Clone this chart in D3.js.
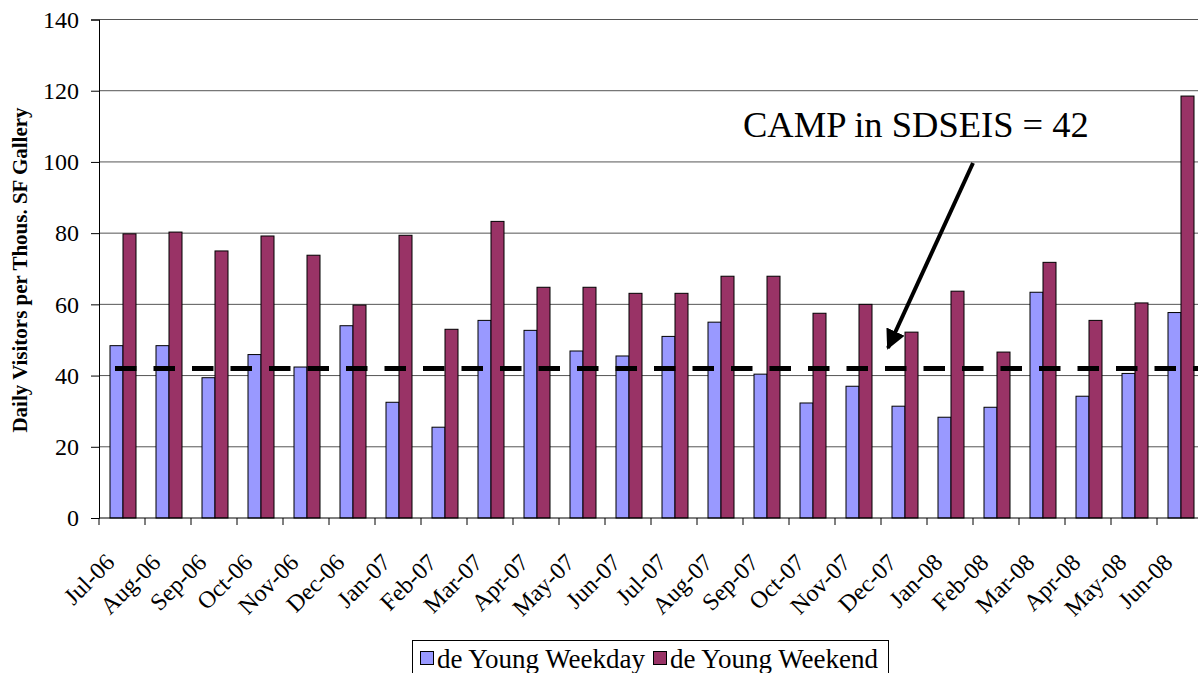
<html lang="en">
<head>
  <script src="https://d3js.org/d3.v7.min.js"></script>
  <style>
    body { margin: 0; background: white; }
    svg text { font-family: "Liberation Serif", "Times New Roman", serif; fill: #000; }
  </style>
</head>
<body>
  <svg id="chart" width="1198" height="673"></svg>
  <script>
    const months = ["Jul-06","Aug-06","Sep-06","Oct-06","Nov-06","Dec-06","Jan-07","Feb-07","Mar-07","Apr-07","May-07","Jun-07",
                    "Jul-07","Aug-07","Sep-07","Oct-07","Nov-07","Dec-07","Jan-08","Feb-08","Mar-08","Apr-08","May-08","Jun-08"];
    const weekday = [48.4,48.4,39.4,45.9,42.4,54.0,32.5,25.5,55.5,52.7,46.9,45.5,
                     51.0,55.0,40.4,32.3,37.0,31.4,28.3,31.1,63.4,34.2,40.6,57.7];
    const weekend = [79.8,80.3,75.0,79.2,73.8,59.8,79.4,53.0,83.3,64.8,64.8,63.1,
                     63.1,67.9,67.9,57.5,60.0,52.2,63.7,46.6,71.8,55.5,60.4,118.5];
    const yTicks = [0,20,40,60,80,100,120,140];
    const camp = 42;
    const seriesNames = ["de Young Weekday","de Young Weekend"];
    const colors = ["#9999FF","#993366"];

    const svg = d3.select("#chart");
    const plotLeft = 99, plotTop = 19.5, plotBottom = 518, bandW = 46;

    const x = d3.scaleBand().domain(months).range([plotLeft, plotLeft + bandW * months.length]);
    const y = d3.scaleLinear().domain([0, 140]).range([plotBottom, plotTop]);

    // gridlines
    svg.append("g").selectAll("line")
      .data(yTicks.filter(d => d > 0))
      .enter().append("line")
      .attr("x1", plotLeft).attr("x2", 1198)
      .attr("y1", d => y(d)).attr("y2", d => y(d))
      .attr("stroke", "#555").attr("stroke-width", 1);

    // bars
    const barW = 13;
    const g = svg.append("g");
    months.forEach((m, i) => {
      const x0 = x(m) + 11;
      g.append("rect")
        .attr("x", x0).attr("y", y(weekday[i]))
        .attr("width", barW).attr("height", plotBottom - y(weekday[i]))
        .attr("fill", colors[0]).attr("stroke", "#000").attr("stroke-width", 1);
      g.append("rect")
        .attr("x", x0 + barW).attr("y", y(weekend[i]))
        .attr("width", barW).attr("height", plotBottom - y(weekend[i]))
        .attr("fill", colors[1]).attr("stroke", "#000").attr("stroke-width", 1);
    });

    // dashed CAMP line
    svg.append("line")
      .attr("x1", 115).attr("x2", 1198)
      .attr("y1", y(camp)).attr("y2", y(camp))
      .attr("stroke", "#000").attr("stroke-width", 5)
      .attr("stroke-dasharray", "21.5,17");

    // y axis
    const yAxis = svg.append("g")
      .attr("transform", "translate(" + plotLeft + ",0)")
      .call(d3.axisLeft(y).tickValues(yTicks).tickSize(8).tickPadding(12));
    yAxis.attr("font-family", null);
    yAxis.select(".domain").attr("stroke", "#000");
    yAxis.selectAll("text").attr("font-size", 24);

    // x axis line + ticks between categories
    svg.append("line").attr("x1", plotLeft).attr("x2", 1198)
      .attr("y1", plotBottom).attr("y2", plotBottom).attr("stroke", "#000");
    svg.append("g").selectAll("line")
      .data(months)
      .enter().append("line")
      .attr("x1", d => x(d)).attr("x2", d => x(d))
      .attr("y1", plotBottom).attr("y2", plotBottom + 7)
      .attr("stroke", "#000");

    svg.append("g").selectAll("text")
      .data(months)
      .enter().append("text")
      .attr("transform", d => "translate(" + (x(d) + bandW / 2 - 18) + "," + (plotBottom + 34) + ") rotate(-45)")
      .attr("text-anchor", "end")
      .attr("dy", "0.7em")
      .attr("font-size", 24)
      .text(d => d);

    // y axis title
    svg.append("text")
      .attr("transform", "translate(27,270) rotate(-90)")
      .attr("text-anchor", "middle")
      .attr("font-size", 21).attr("font-weight", "bold")
      .text("Daily Visitors per Thous. SF Gallery");

    // annotation
    svg.append("text")
      .attr("x", 743).attr("y", 137)
      .attr("font-size", 36.5)
      .text("CAMP in SDSEIS = " + camp);

    svg.append("defs").append("marker")
      .attr("id", "arrow").attr("viewBox", "0 0 10 10")
      .attr("refX", 9).attr("refY", 5)
      .attr("markerWidth", 5).attr("markerHeight", 5)
      .attr("orient", "auto")
      .append("path").attr("d", "M0,0 L10,5 L0,10 z").attr("fill", "#000");
    svg.append("line")
      .attr("x1", 973).attr("y1", 163)
      .attr("x2", 888).attr("y2", 348)
      .attr("stroke", "#000").attr("stroke-width", 4)
      .attr("marker-end", "url(#arrow)");

    // legend
    const lg = svg.append("g");
    lg.append("rect").attr("x", 412.5).attr("y", 640.5).attr("width", 476).attr("height", 40)
      .attr("fill", "white").attr("stroke", "#000");
    const legX = [420, 653];
    seriesNames.forEach((n, i) => {
      lg.append("rect").attr("x", legX[i] + 0.5).attr("y", 651.5).attr("width", 13).attr("height", 13)
        .attr("fill", colors[i]).attr("stroke", "#000");
      lg.append("text").attr("x", legX[i] + 17).attr("y", 668)
        .attr("font-size", 27).text(n);
    });
  </script>
</body>
</html>
